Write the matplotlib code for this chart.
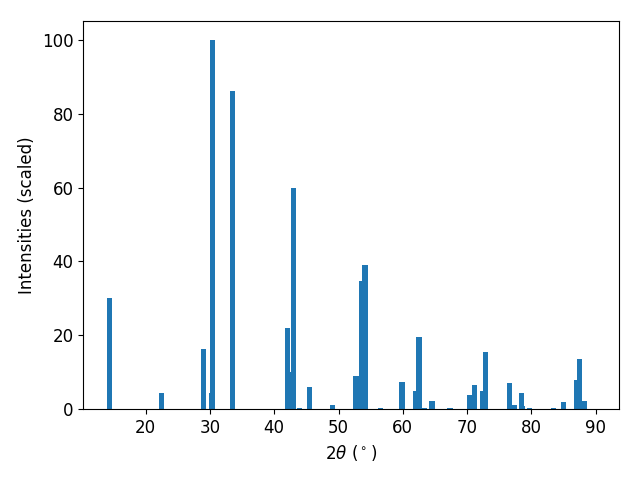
import matplotlib
matplotlib.use("Agg")
import matplotlib.pyplot as plt

plt.rcParams['font.size'] = 12

two_theta = [14.44, 22.44, 29.03, 30.25, 30.45, 33.56, 42.1, 42.5, 43.03, 43.97,
             45.52, 49.07, 52.72, 53.65, 54.12, 56.53, 59.88, 62.05, 62.52, 63.3,
             64.54, 67.34, 70.36, 71.14, 72.38, 72.85, 76.58, 77.36, 78.45, 78.6,
             79.69, 83.4, 85.04, 86.97, 87.5, 88.28]
intensities = [30.2, 4.3, 16.3, 4.3, 100.0, 86.2, 22.0, 10.0, 60.0, 0.4,
               6.0, 1.2, 8.9, 34.7, 39.0, 0.3, 7.3, 5.0, 19.5, 0.3,
               2.2, 0.3, 3.8, 6.5, 4.9, 15.4, 7.0, 1.1, 4.3, 0.8,
               0.3, 0.3, 1.9, 7.9, 13.5, 2.2]

fig, ax = plt.subplots(figsize=(6.4, 4.8), dpi=100)
ax.bar(two_theta, intensities, width=0.8, color='#1f77b4')
ax.set_xlim(10.29, 93.67)
ax.set_ylim(0, 105)
ax.set_xlabel(r'$2\theta$ ($^\circ$)')
ax.set_ylabel('Intensities (scaled)')
fig.subplots_adjust(left=0.130, right=0.9677, top=0.9556, bottom=0.1473)
fig.savefig('out.png', dpi=100)
